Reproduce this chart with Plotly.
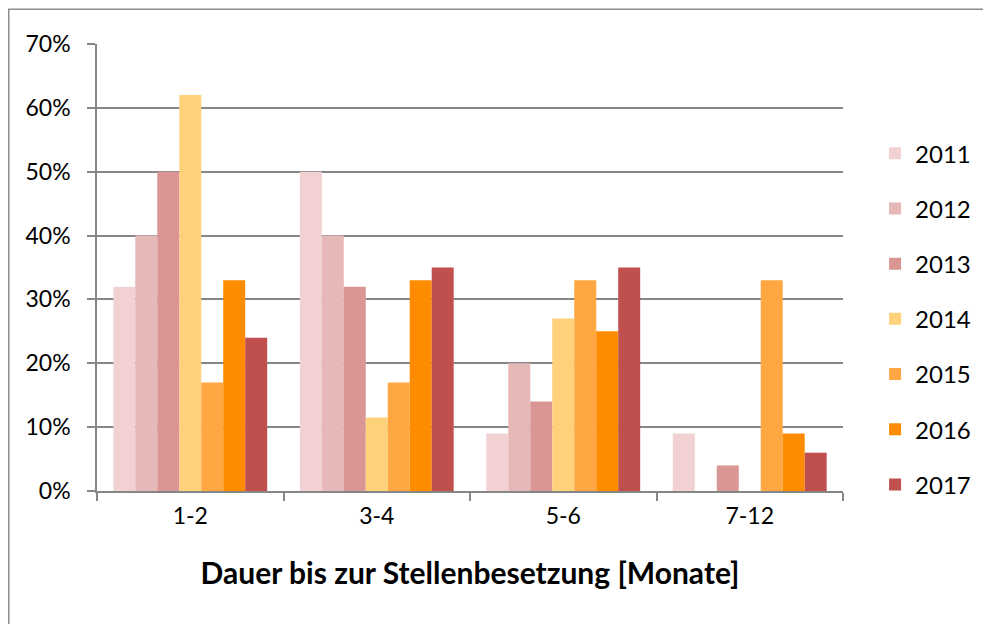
import plotly.graph_objects as go

categories = ["1-2", "3-4", "5-6", "7-12"]
years = ["2011", "2012", "2013", "2014", "2015", "2016", "2017"]
values = {
    "2011": [32, 50, 9, 9],
    "2012": [40, 40, 20, 0],
    "2013": [50, 32, 14, 4],
    "2014": [62, 11.5, 27, 0],
    "2015": [17, 17, 33, 33],
    "2016": [33, 33, 25, 9],
    "2017": [24, 35, 35, 6],
}
colors = ["#F2D1D2", "#E6B8B7", "#DA9694", "#FFD17A", "#FFA742", "#FF8B00", "#C0504D"]
y_ticks = [0, 10, 20, 30, 40, 50, 60, 70]

FONT = "Lato"
fig = go.Figure()
for yr, col in zip(years, colors):
    fig.add_trace(go.Bar(
        x=categories, y=values[yr], name=yr, marker_color=col,
        marker_line_width=0, legendgroup=yr,
    ))

fig.update_layout(
    width=991, height=624,
    margin=dict(l=89, r=156, t=36, b=141),
    paper_bgcolor="white", plot_bgcolor="white",
    barmode="group", bargap=0.175, bargroupgap=0,
    font=dict(family=FONT, size=23, color="black"),
    legend=dict(
        x=1.043, xanchor="left", y=0.805, yanchor="top",
        traceorder="grouped", tracegroupgap=21,
        font=dict(family=FONT, size=24), itemwidth=30,
    ),
    xaxis=dict(
        showline=True, linecolor="#868686", linewidth=1.5,
        ticks="outside", tickson="boundaries", ticklen=8, tickcolor="#868686", tickwidth=1.5,
        tickfont=dict(size=23), ticklabelstandoff=4,
        title=dict(text="<b>Dauer bis zur Stellenbesetzung [Monate]</b>", font=dict(size=30), standoff=35),
    ),
    yaxis=dict(
        range=[0, 70], tickvals=y_ticks, ticktext=[f"{v}%" for v in y_ticks],
        showline=True, linecolor="#868686", linewidth=1.5,
        showgrid=True, gridcolor="#868686", gridwidth=1.5,
        ticks="outside", ticklen=8, tickcolor="#868686", tickwidth=1.5,
        tickfont=dict(size=23), zeroline=False, ticklabelstandoff=12,
    ),
    shapes=[dict(type="rect", xref="paper", yref="paper",
                 x0=-0.1183, x1=1.5, y0=-0.6, y1=1.078,
                 line=dict(color="#8C8C8C", width=1.5), layer="below")],
)

fig.write_html("out.html")
